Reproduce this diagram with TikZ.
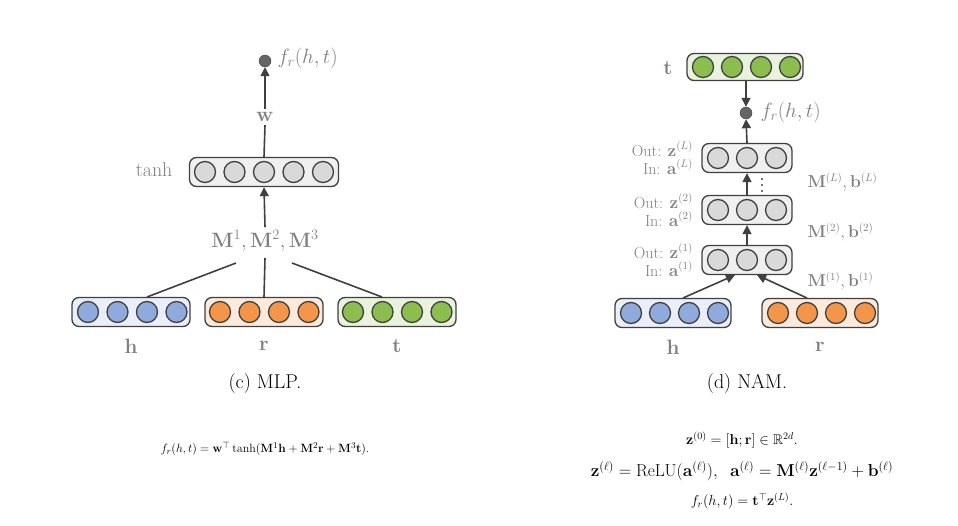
\documentclass[tikz,border=0pt]{standalone}
\usepackage{amsmath,amssymb}
\usetikzlibrary{arrows.meta}
\definecolor{txt}{HTML}{808080}
\definecolor{cb}{HTML}{8FAADC}
\definecolor{co}{HTML}{F4964A}
\definecolor{cg}{HTML}{8CBD4F}
\definecolor{cy}{HTML}{D9D9D9}
\definecolor{ln}{HTML}{404040}
\begin{document}
\begin{tikzpicture}[x=1pt,y=-1pt,
  box/.style={draw=ln,line width=1.3pt,rounded corners=7pt,minimum height=29pt,inner sep=0pt},
  neu/.style={circle,draw=ln,line width=1.3pt,minimum size=21pt,inner sep=0pt},
  dot/.style={circle,draw=ln,fill=ln!80,minimum size=12pt,inner sep=0pt},
  lab/.style={text=txt,font=\fontsize{20}{22}\selectfont},
  sl/.style={text=txt,font=\fontsize{16}{18}\selectfont},
  con/.style={draw=ln,line width=1.6pt},
  arr/.style={con,-{Triangle[length=9pt,width=9pt]}}]
\useasboundingbox (0,0) rectangle (958,525);
% ---------- MLP ----------
\node[box,fill=cb!20,minimum width=118pt] (hb) at (131,312) {};
\foreach \i in {0,...,3} \node[neu,fill=cb] at (88+\i*29.5,312) {};
\node[box,fill=co!20,minimum width=118pt] (rb) at (264,312) {};
\foreach \i in {0,...,3} \node[neu,fill=co] at (220+\i*29.5,312) {};
\node[box,fill=cg!20,minimum width=118pt] (tb) at (397,312) {};
\foreach \i in {0,...,3} \node[neu,fill=cg] at (353+\i*29.5,312) {};
\node[lab] (hl) at (131,346) {$\mathbf{h}$};
\node[lab] (rl) at (264,346) {$\mathbf{r}$};
\node[lab] (tl) at (397,346) {$\mathbf{t}$};
\node[font=\fontsize{20}{22}\selectfont] (capc) at (265,384) {(c) MLP.};
\node[lab] (M) at (265,241) {$\mathbf{M}^{1},\mathbf{M}^{2},\mathbf{M}^{3}$};
\coordinate (ml) at (236,263); \coordinate (mc) at (265,258); \coordinate (mr) at (292,263);
\draw[con] (ml) -- (147,297);
\draw[con] (mc) -- (rb.north);
\draw[con] (mr) -- (382,297);
\node[box,fill=cy!40,minimum width=149pt] (tanhb) at (264,172) {};
\foreach \i in {0,...,4} \node[neu,fill=cy] at (205+\i*29.5,172) {};
\node[lab,anchor=east] (tanhl) at (176,170) {tanh};
\draw[arr] (M.north) -- (tanhb.south);
\node[lab] (w) at (265,117) {$\mathbf{w}$};
\draw[con] (w.south) -- (tanhb.north);
\node[dot] (o1) at (265,61) {};
\draw[arr] (w.north) -- (o1.south);
\node[lab,anchor=west] (f1) at (274,58) {$f_r(h,t)$};
% ---------- NAM ----------
\node[box,fill=cg!20,minimum width=116pt,minimum height=27pt] (tb2) at (745,67) {};
\foreach \i in {0,...,3} \node[neu,fill=cg] at (703+\i*29,67) {};
\node[lab] (tl2) at (668,68) {$\mathbf{t}$};
\node[dot] (o2) at (746,113) {};
\node[lab,anchor=west] (f2) at (757,112) {$f_r(h,t)$};
\draw[arr] (746,81) -- (o2.north);
\foreach \n/\y in {L/158,B/210,A/260}{
  \node[box,fill=cy!40,minimum width=90pt] (l\n) at (747,\y) {};
  \foreach \i in {0,...,2} \node[neu,fill=cy] at (718+\i*29,\y) {};
}
\draw[arr] (lL.north) -- (o2.south);
\draw[arr] (lB.north) -- (lL.south);
\draw[arr] (lA.north) -- (lB.south);
\foreach \yy in {179,185,191} \fill[ln] (762,\yy) circle (1.1pt);
\foreach \n/\y/\s in {L/158/L,B/210/2,A/260/1}{
  \node[sl,anchor=east,inner sep=1pt] (o\n) at (694,\y-9) {Out: $\mathbf{z}^{(\s)}$};
  \node[sl,anchor=east,inner sep=1pt] (i\n) at (694,\y+9) {In: $\mathbf{a}^{(\s)}$};
}
\node[sl,anchor=west] (mL) at (804,182) {$\mathbf{M}^{(L)},\mathbf{b}^{(L)}$};
\node[sl,anchor=west] (mB) at (804,232) {$\mathbf{M}^{(2)},\mathbf{b}^{(2)}$};
\node[sl,anchor=west] (mA) at (804,281) {$\mathbf{M}^{(1)},\mathbf{b}^{(1)}$};
\node[box,fill=cb!20,minimum width=116pt] (hb2) at (673,313) {};
\foreach \i in {0,...,3} \node[neu,fill=cb] at (631+\i*29,313) {};
\node[box,fill=co!20,minimum width=116pt] (rb2) at (820,313) {};
\foreach \i in {0,...,3} \node[neu,fill=co] at (778+\i*29,313) {};
\draw[arr] (683,298) -- (735,275);
\draw[arr] (807,298) -- (757,275);
\node[lab] (hl2) at (673,347) {$\mathbf{h}$};
\node[lab] (rl2) at (820,347) {$\mathbf{r}$};
\node[font=\fontsize{20}{22}\selectfont] (capd) at (747,384) {(d) NAM.};
% ---------- equations ----------
\node[font=\fontsize{12.5}{14}\selectfont] (e1) at (265,449) {$f_r(h,t)=\mathbf{w}^{\top}\tanh(\mathbf{M}^1\mathbf{h}+\mathbf{M}^2\mathbf{r}+\mathbf{M}^3\mathbf{t}).$};
\node[font=\fontsize{14}{16}\selectfont] (e2) at (742,440) {$\mathbf{z}^{(0)}=[\mathbf{h};\mathbf{r}]\in\mathbb{R}^{2d}.$};
\node[font=\fontsize{16.5}{18}\selectfont] (e3) at (742,471) {$\mathbf{z}^{(\ell)}=\mathrm{ReLU}(\mathbf{a}^{(\ell)}),\;\;\mathbf{a}^{(\ell)}=\mathbf{M}^{(\ell)}\mathbf{z}^{(\ell-1)}+\mathbf{b}^{(\ell)}$};
\node[font=\fontsize{14}{16}\selectfont] (e4) at (742,501) {$f_r(h,t)=\mathbf{t}^{\top}\mathbf{z}^{(L)}.$};
\end{tikzpicture}
\end{document}
